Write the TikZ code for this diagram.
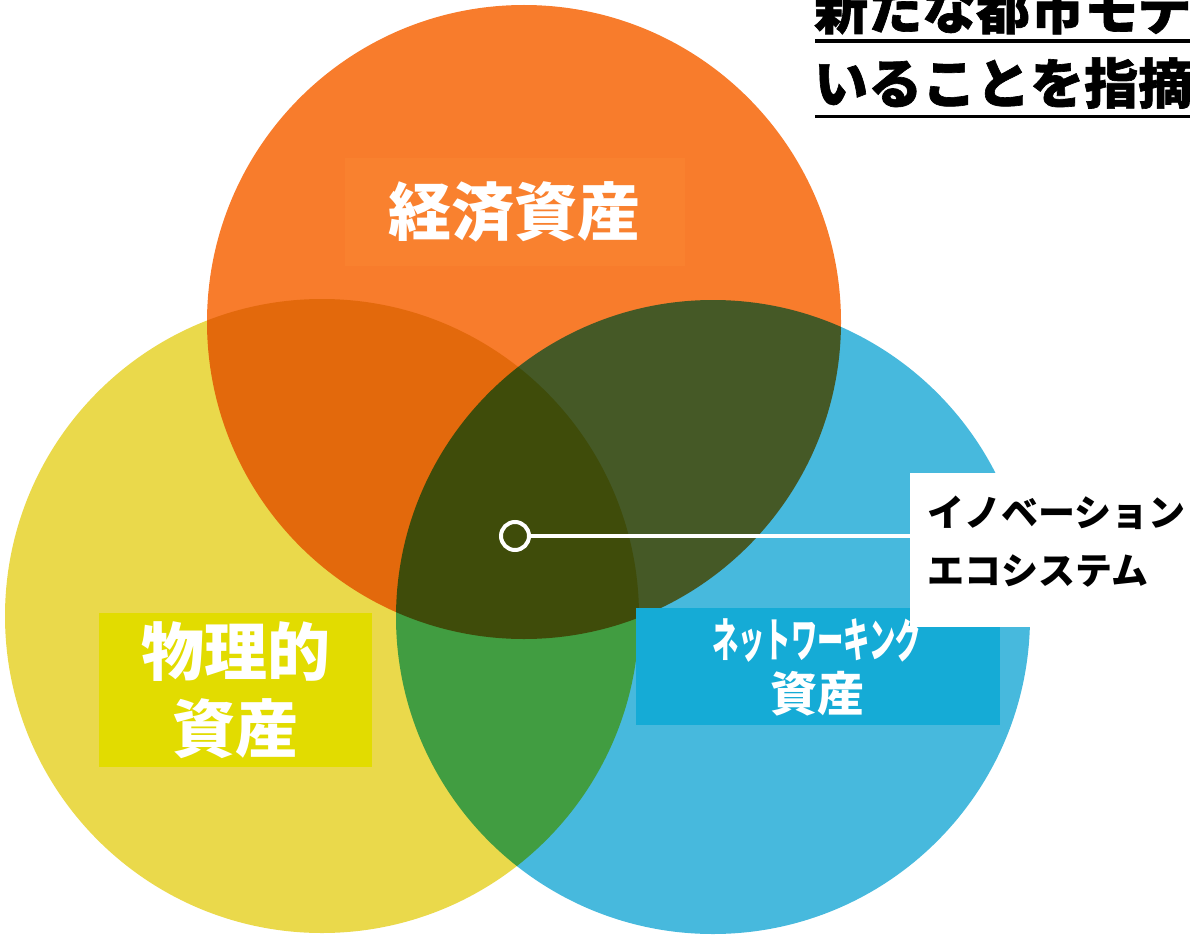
\documentclass[tikz,border=0pt]{standalone}
\usepackage{fontspec}
\newfontfamily\jp{Noto Sans CJK JP}
\newfontfamily\jpheavy{Noto Sans CJK JP}[FakeBold=1.2]
\definecolor{cOrange}{HTML}{F87C2C}
\definecolor{cYellow}{HTML}{EAD94B}
\definecolor{cBlue}{HTML}{47B9DD}
\definecolor{econFill}{HTML}{F9812F}
\definecolor{physFill}{HTML}{E2DC00}
\definecolor{netFill}{HTML}{15ABD6}
\tikzset{
  venn/.style={radius=317pt},
  labelbox/.style={inner sep=0pt, outer sep=0pt, align=center, text=white},
  whitebox/.style={fill=white, inner sep=0pt, outer sep=0pt},
  titletext/.style={inner sep=0pt, anchor=west, font=\jpheavy\bfseries\fontsize{54}{60}\selectfont},
}
\begin{document}
\begin{tikzpicture}[x=1pt, y=-1pt]
\useasboundingbox (0,0) rectangle (1190,936);
\clip (0,0) rectangle (1190,936);
% circles, multiplied
\begin{scope}[blend group=multiply]
  \fill[cOrange] (524,322) circle[venn];
  \fill[cYellow] (322,616) circle[venn];
  \fill[cBlue] (713,617) circle[venn];
\end{scope}
% label boxes
\node[labelbox, fill=econFill, minimum width=340pt, minimum height=108pt,
      font=\jp\bfseries\fontsize{63}{70}\selectfont] (econ) at (514.5,212) {経済資産};
\node[labelbox, fill=physFill, minimum width=273pt, minimum height=154pt,
      font=\jp\bfseries\fontsize{63}{77}\selectfont] (phys) at (235.5,690) {物理的\\資産};
\node[labelbox, fill=netFill, minimum width=364pt, minimum height=117pt] (netbox) at (818,666.5) {};
\node[labelbox, font=\jp\bfseries\fontsize{47}{55}\selectfont] (netA) at (817,639) {\scalebox{0.56}[1]{ネットワーキング}};
\node[labelbox, font=\jp\bfseries\fontsize{47}{55}\selectfont] (netB) at (817.5,694) {資産};
% innovation label
\node[whitebox, minimum width=290pt, minimum height=154pt] (innovbox) at (1055,550) {};
\node[inner sep=0pt, anchor=west, align=left, font=\jp\bfseries\fontsize{37}{58}\selectfont]
  (innov) at (927,542) {イノベーション\\エコシステム};
% marker and connector
\node[circle, draw=white, line width=4pt, minimum size=28pt, inner sep=0pt] (ring) at (515,536) {};
\draw[white, line width=4.5pt] (ring.east) -- (ring.east -| innovbox.west);
% title (clipped at the picture edge, as in the reference)
\node[titletext] (titleA) at (814,8) {新たな都市モデ};
\node[titletext] (titleB) at (814,83) {いることを指摘};
\coordinate (uA) at (815,41);
\coordinate (uB) at (815,116.5);
\coordinate (edgeR) at (1190,0);
\draw[black, line width=3.5pt] (uA) -- (uA -| edgeR);
\draw[black, line width=3.5pt] (uB) -- (uB -| edgeR);
\end{tikzpicture}
\end{document}
